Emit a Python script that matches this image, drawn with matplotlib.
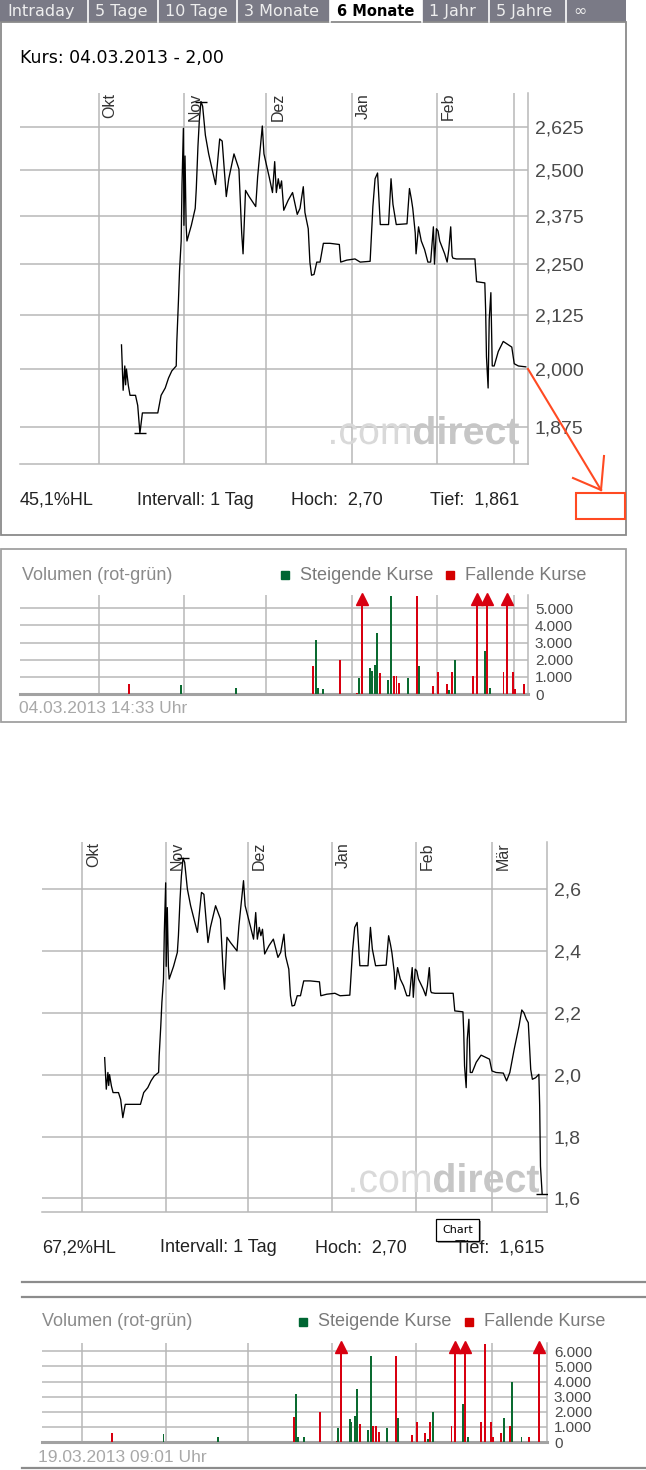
import datetime as dt
import numpy as np
import matplotlib
matplotlib.use("Agg")
import matplotlib.pyplot as plt
import matplotlib.dates as mdates
from matplotlib.patches import Rectangle, PathPatch
from matplotlib.textpath import TextPath
from matplotlib.font_manager import FontProperties
from matplotlib.ticker import NullLocator
from matplotlib.transforms import Affine2D, blended_transform_factory, offset_copy

plt.rcParams['font.family'] = ['Liberation Sans', 'DejaVu Sans']

# daily prices, day number counted from 1 Oct 2012
price_day = [8.3, 8.9, 9.5, 9.8, 10.1, 10.8, 11.4, 13.4, 14.2, 15.0,
             15.9, 21.5, 22.7, 24.2, 25.4, 26.6, 28.2, 28.4, 29.0, 29.4,
             30.0, 30.3, 30.8, 31.0, 31.4, 31.8, 32.1, 33.7, 35.1, 35.5,
             36.1, 36.6, 37.2, 37.8, 38.8, 40.0, 42.5, 44.0, 44.9, 46.4,
             47.3, 49.2, 51.0, 52.0, 52.5, 53.4, 54.7, 57.1, 57.8, 59.5,
             60.1, 62.0, 63.2, 64.0, 64.6, 65.3, 65.9, 66.5, 67.3, 68.9,
             70.5, 72.2, 73.2, 74.4, 75.0, 76.2, 76.8, 77.4, 78.3, 79.3,
             80.5, 81.7, 84.1, 87.5, 88.0, 90.2, 93.2, 95.1, 98.7, 99.7,
             100.5, 101.4, 102.4, 105.4, 106.3, 107.0, 108.2, 112.1, 113.0, 113.7,
             114.2, 115.1, 115.4, 116.3, 117.3, 118.5, 119.7, 120.7, 121.7, 122.1,
             122.8, 123.4, 124.0, 125.2, 125.8, 126.7, 127.3, 128.0, 128.5, 128.8,
             130.1, 136.8, 137.4, 140.4, 140.7, 141.0, 141.6, 142.0, 142.6, 143.1,
             143.8, 145.3, 147.1, 148.3, 150.2, 151.1, 152.6, 155.3, 156.5, 157.7,
             159.3, 161.1, 162.1, 162.9, 163.8, 164.5, 165.4, 166.0, 167.2, 168.4,
             168.7, 169.0, 169.6]
price_val = [2.055, 1.953, 2.007, 1.965, 2.000, 1.963, 1.942, 1.942, 1.920, 1.861,
             1.904, 1.904, 1.942, 1.958, 1.980, 1.996, 2.007, 2.060, 2.158, 2.233,
             2.309, 2.460, 2.620, 2.350, 2.540, 2.350, 2.309, 2.350, 2.395, 2.449,
             2.568, 2.643, 2.700, 2.686, 2.600, 2.546, 2.460, 2.589, 2.583, 2.427,
             2.476, 2.546, 2.503, 2.330, 2.276, 2.444, 2.427, 2.400, 2.481, 2.627,
             2.546, 2.481, 2.438, 2.524, 2.438, 2.476, 2.449, 2.470, 2.390, 2.417,
             2.438, 2.379, 2.395, 2.454, 2.384, 2.341, 2.255, 2.222, 2.224, 2.255,
             2.255, 2.303, 2.303, 2.300, 2.255, 2.260, 2.263, 2.255, 2.257, 2.400,
             2.476, 2.492, 2.352, 2.352, 2.476, 2.406, 2.352, 2.354, 2.449, 2.420,
             2.395, 2.330, 2.276, 2.346, 2.309, 2.287, 2.255, 2.255, 2.346, 2.250,
             2.341, 2.335, 2.309, 2.287, 2.276, 2.255, 2.287, 2.346, 2.271, 2.265,
             2.263, 2.263, 2.206, 2.203, 2.136, 2.028, 1.958, 2.114, 2.179, 2.007,
             2.007, 2.040, 2.063, 2.058, 2.050, 2.012, 2.007, 2.005, 1.980, 2.007,
             2.082, 2.158, 2.209, 2.200, 2.179, 2.168, 2.017, 1.985, 1.990, 2.001,
             1.899, 1.704, 1.615]

# daily volume (1 = rising, 0 = falling day)
vol_day = [11, 30, 50, 78, 79, 79.6, 81.7, 87.8, 93.8, 94.5,
           95.6, 98.6, 99.3, 100.5, 101.2, 102.4, 105.3, 106.4, 107.3, 108.3,
           109.3, 112.5, 115.6, 116.4, 121.5, 123.4, 126.5, 127.5, 128.4, 129.5,
           136.2, 137.4, 140.4, 141.1, 142.3, 147.2, 148.4, 150.6, 151.4, 154.5,
           155.7, 157.6, 158.5, 162.0, 164.7, 168.6]
vol_val = [580, 500, 330, 1650, 3150, 330, 300, 1980, 60, 920,
           9000, 1520, 1320, 1700, 3530, 1200, 820, 5700, 1050, 1050,
           670, 920, 5700, 1620, 490, 1310, 600, 220, 1310, 2000,
           1050, 9000, 2500, 9000, 350, 1310, 6500, 1310, 300, 600,
           1600, 1080, 4000, 310, 310, 9000]
vol_up = [0, 1, 1, 0, 1, 1, 1, 0, 0, 1,
          0, 1, 1, 1, 1, 0, 1, 1, 0, 0,
          0, 1, 0, 1, 0, 0, 0, 1, 0, 1,
          0, 0, 1, 0, 1, 0, 0, 0, 0, 0,
          1, 0, 1, 1, 0, 0]

tabs = ["Intraday", "5 Tage", "10 Tage", "3 Monate", "6 Monate", "1 Jahr", "5 Jahre", "\u221e"]
month_names = {10: "Okt", 11: "Nov", 12: "Dez", 1: "Jan", 2: "Feb", 3: "M\u00e4r"}
top_ticks = [1.875, 2.0, 2.125, 2.25, 2.375, 2.5, 2.625]
bot_ticks = [1.6, 1.8, 2.0, 2.2, 2.4, 2.6]
vol_ticks_top = [0, 1000, 2000, 3000, 4000, 5000]
vol_ticks_bot = [0, 1000, 2000, 3000, 4000, 5000, 6000]

W, H = 646, 1470
fig = plt.figure(figsize=(W / 100, H / 100), dpi=100)
GRID = '#b8b8b8'
GREEN = '#0a6a30'
RED = '#d80010'
t0 = mdates.date2num(dt.datetime(2012, 10, 1))


def px_axes(l, t, r, b):
    return fig.add_axes([l / W, 1 - b / H, (r - l) / W, (b - t) / H])


def style_axes(ax, xlim, labelsize):
    ax.set_xlim(t0 + xlim[0], t0 + xlim[1])
    ax.xaxis.set_major_locator(mdates.MonthLocator())
    ax.grid(True, color=GRID, lw=1.1)
    ax.set_axisbelow(True)
    for s in ('top', 'left'):
        ax.spines[s].set_visible(False)
    for s in ('bottom', 'right'):
        ax.spines[s].set_color(GRID)
        ax.spines[s].set_linewidth(1.1)
    ax.tick_params(axis='x', length=0, labelbottom=False)
    ax.yaxis.tick_right()
    ax.tick_params(axis='y', length=0, pad=5, colors='#4a4a4a', labelsize=labelsize)


def price_panel(rect, xlim, end_day, ticks, ylim, logy, decimals):
    ax = px_axes(*rect)
    if logy:
        ax.set_yscale('log')
    style_axes(ax, xlim, 14)
    d = np.array(price_day)
    v = np.array(price_val)
    keep = d <= end_day
    x, y = t0 + d[keep], v[keep]
    ax.plot(x, y, color='black', lw=0.95, zorder=3)
    hi, lo = np.argmax(y), np.argmin(y)
    ax.plot([x[hi], x[lo]], [y[hi], y[lo]], ls='none', marker='_', ms=9, mew=1.0,
            color='black', zorder=4)
    ax.set_ylim(*ylim)
    ax.yaxis.set_minor_locator(NullLocator())
    ax.set_yticks(ticks)
    ax.set_yticklabels([f"{t:.{decimals}f}".replace('.', ',') for t in ticks])
    trans = offset_copy(blended_transform_factory(ax.transData, ax.transAxes),
                        fig=fig, x=4, y=0, units='dots')
    for t in ax.get_xticks():
        if t0 + xlim[0] < t < t0 + xlim[1] - 8:
            ax.text(t, 1.0, month_names[mdates.num2date(t).month], transform=trans,
                    rotation=90, ha='left', va='top', fontsize=11.5, color='#333333')
    return y[hi], y[lo]


def volume_panel(rect, xlim, end_day, ticks, ymax):
    ax = px_axes(*rect)
    style_axes(ax, xlim, 11)
    ax.spines['bottom'].set_linewidth(2.2)
    ax.spines['bottom'].set_color('#a2a2a2')
    d = np.array(vol_day)
    v = np.array(vol_val)
    up = np.array(vol_up, bool)
    keep = d <= end_day
    ax.bar(t0 + d[keep & up], v[keep & up], width=0.7, color=GREEN, zorder=3)
    ax.bar(t0 + d[keep & ~up], v[keep & ~up], width=0.7, color=RED, zorder=3)
    ax.set_ylim(0, ymax)
    ax.set_yticks(ticks)
    ax.set_yticklabels([f"{t:,.0f}".replace(',', '.') for t in ticks])
    over = keep & (v > ymax)
    tr = offset_copy(ax.transData, fig=fig, x=0, y=-4, units='dots')
    ax.plot(t0 + d[over], np.full(over.sum(), ymax), ls='none', marker='^', ms=8,
            color=RED, clip_on=False, zorder=4, transform=tr)


# charts
hi1, lo1 = price_panel((20, 93, 528, 464), (-28.6, 156.1), 155.3, top_ticks,
                       (1.798, 2.726), True, 3)
volume_panel((20, 595, 528, 694), (-28.6, 156.1), 155.3, vol_ticks_top, 5773)
hi2, lo2 = price_panel((42, 842, 547, 1212), (-14.8, 171.4), 171, bot_ticks,
                       (1.556, 2.752), False, 1)
volume_panel((42, 1343, 547, 1442), (-14.8, 171.4), 171, vol_ticks_bot, 6556)

# overlay in pixel coordinates for frames and captions
ov = fig.add_axes([0, 0, 1, 1])
ov.set_xlim(0, W)
ov.set_ylim(H, 0)
ov.axis('off')
ov.set_facecolor('none')

# tab bar
edges = [0, 88, 158, 237, 330, 422, 489, 566, 626]
for i, name in enumerate(tabs):
    sel = name == "6 Monate"
    ov.add_patch(Rectangle((edges[i], 0), edges[i + 1] - edges[i], 22,
                           facecolor='white' if sel else '#7a7a86', edgecolor='none'))
    if i > 0:
        ov.plot([edges[i], edges[i]], [0, 22], color='white', lw=1.2)
    ov.text(edges[i] + 7, 11.5, name, family='DejaVu Sans',
            fontsize=10.5 if sel else 11.5,
            color='black' if sel else '#eeeeee', weight='bold' if sel else 'normal',
            ha='left', va='center')

# frames
ov.add_patch(Rectangle((0.5, 22), 625, 513, fill=False, edgecolor='#8a8a8a', lw=1.3))
ov.add_patch(Rectangle((0.5, 549), 625, 173, fill=False, edgecolor='#a0a0a0', lw=1.3))
for yy in (1282, 1297, 1468):
    ov.plot([22, 646], [yy, yy], color='#8c8c8c', lw=1.6)

ov.text(20, 58, "Kurs: 04.03.2013 - 2,00", family='DejaVu Sans', fontsize=12.5,
        ha='left', va='center', color='black')


def info_line(y, xs, hi, lo):
    texts = [f"{(hi - lo) / lo * 100:.1f}%HL".replace('.', ','), "Intervall: 1 Tag",
             f"Hoch:  {hi:.2f}".replace('.', ','), f"Tief:  {lo:.3f}".replace('.', ',')]
    for x, s in zip(xs, texts):
        ov.text(x, y, s, fontsize=13, color='#222222', ha='left', va='center')


info_line(500, (20, 137, 291, 430), hi1, lo1)
info_line(1248, (42, 160, 315, 455), hi2, lo2)


def volume_header(y, x0, xg, xr):
    ov.text(x0, y, "Volumen (rot-gr\u00fcn)", fontsize=13, color='#8a8a8a', ha='left', va='center')
    ov.add_patch(Rectangle((xg, y - 4), 8, 8, color='#006633'))
    ov.text(xg + 19, y, "Steigende Kurse", fontsize=13, color='#7a7a7a', ha='left', va='center')
    ov.add_patch(Rectangle((xr, y - 4), 8, 8, color='#d40000'))
    ov.text(xr + 19, y, "Fallende Kurse", fontsize=13, color='#7a7a7a', ha='left', va='center')


volume_header(575, 22, 281, 446)
volume_header(1322, 42, 299, 465)
ov.text(19, 708, "04.03.2013 14:33 Uhr", fontsize=12.5, color='#a8a8a8', ha='left', va='center')
ov.text(38, 1457, "19.03.2013 09:01 Uhr", fontsize=12.5, color='#a8a8a8', ha='left', va='center')


def wordmark(x, base, width, height):
    fp = FontProperties(family='Liberation Sans')
    fpb = FontProperties(family='Liberation Sans', weight='bold')
    p1 = TextPath((0, 0), ".com", size=1, prop=fp)
    p2 = TextPath((0, 0), "direct", size=1, prop=fpb)
    e1, e2 = p1.get_extents(), p2.get_extents()
    adv = e1.x1 + 0.06
    total = adv + e2.x1 - e1.x0
    sx, sy = width / total, height / e2.y1
    for p, dx, c in ((p1, 0, '#d9d9d9'), (p2, adv, '#c6c6c6')):
        tr = Affine2D().translate(dx - e1.x0, 0).scale(sx, -sy).translate(x, base) + ov.transData
        ov.add_patch(PathPatch(p, transform=tr, facecolor=c, edgecolor='none'))


wordmark(331, 444, 188, 28)
wordmark(351, 1192, 188, 29)

# red annotation arrow and box
ac = '#ff4a22'
ov.plot([528, 601], [369, 490], color=ac, lw=1.5)
ov.plot([604, 601], [456, 490], color=ac, lw=1.5)
ov.plot([573, 601], [478, 490], color=ac, lw=1.5)
ov.add_patch(Rectangle((576, 493), 49, 26, fill=False, edgecolor=ac, lw=1.5))

# tooltip
ov.add_patch(Rectangle((438, 1221), 43, 22, facecolor='#9a9a9a', edgecolor='none'))
ov.add_patch(Rectangle((436, 1219), 43, 22, facecolor='white', edgecolor='black', lw=0.9))
ov.text(457.5, 1230, "Chart", family='DejaVu Sans', fontsize=8, ha='center', va='center')

fig.savefig("out.png", dpi=100)
